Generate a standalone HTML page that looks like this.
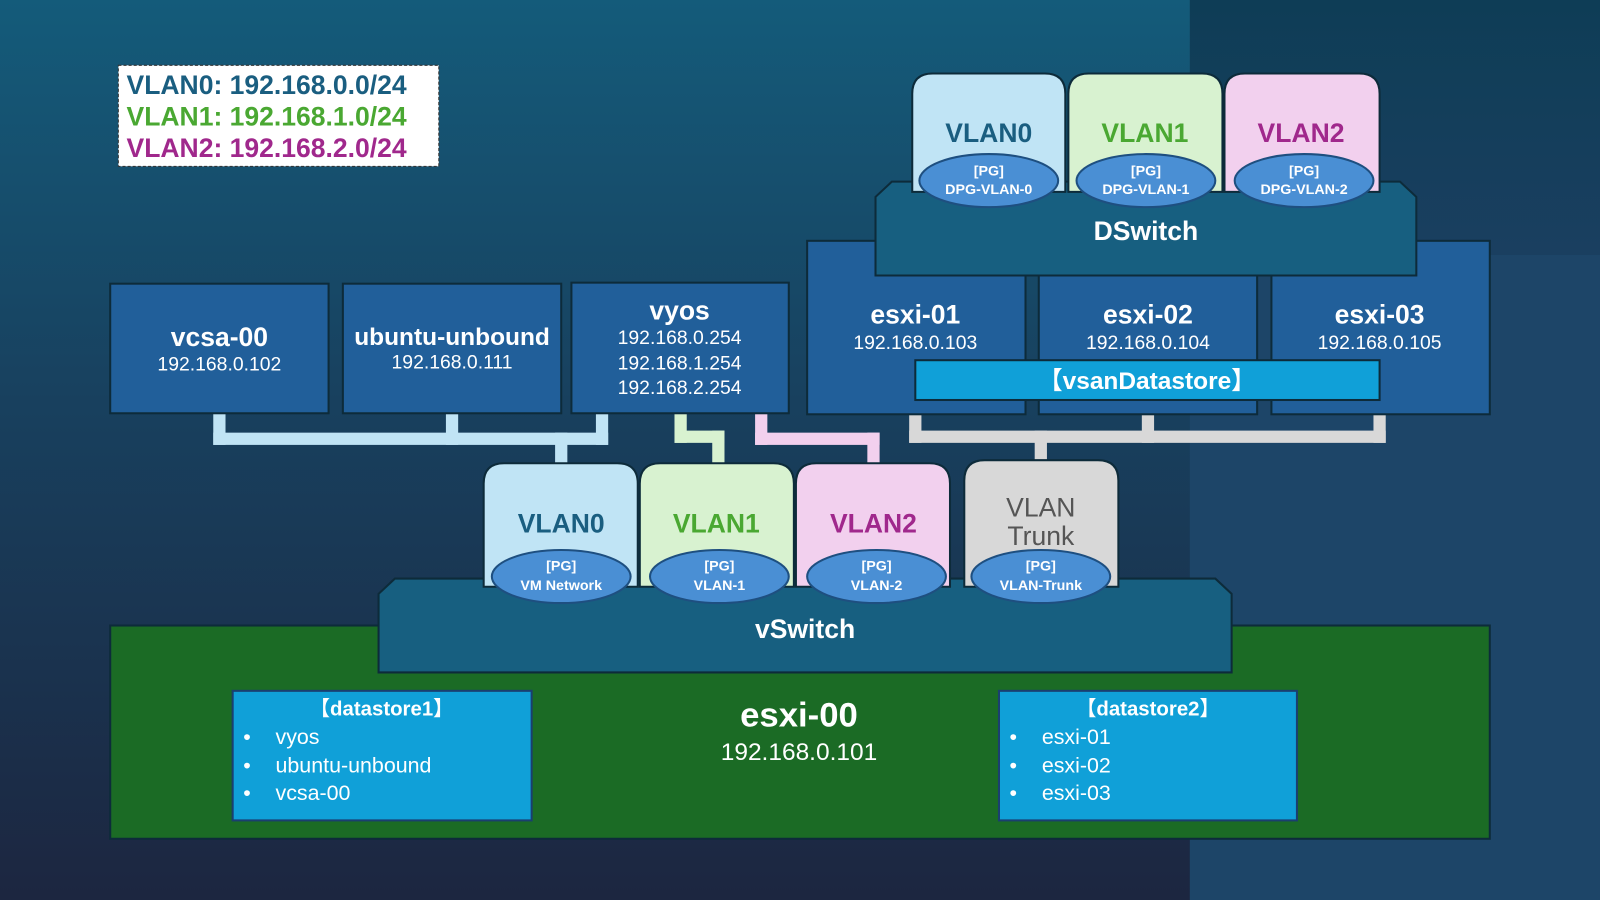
<!DOCTYPE html>
<html><head><meta charset="utf-8"><style>
html,body{margin:0;padding:0;width:1600px;height:900px;overflow:hidden;background:#1a3550}
svg{display:block}
text{font-family:"Liberation Sans","Noto Sans CJK JP",sans-serif;text-anchor:middle}
.b{font-weight:bold}
</style></head><body>
<svg width="1600" height="900" viewBox="0 0 1568 882" preserveAspectRatio="none" xmlns="http://www.w3.org/2000/svg">
<defs>
<linearGradient id="bgL" x1="0" y1="0" x2="0" y2="1">
<stop offset="0" stop-color="#145b7a"/><stop offset="0.45" stop-color="#18405e"/><stop offset="1" stop-color="#1c2640"/></linearGradient>
<linearGradient id="bgR" x1="0" y1="0" x2="0" y2="1">
<stop offset="0" stop-color="#0e3d56"/><stop offset="1" stop-color="#1a3f60"/></linearGradient>
</defs>
<rect x="0" y="0" width="1568" height="882" fill="url(#bgL)"/>
<rect x="1166" y="0" width="402" height="250" fill="url(#bgR)"/>
<rect x="1166" y="250" width="402" height="632" fill="#1d4568"/>

<!-- legend -->
<rect x="116" y="64" width="314" height="99" fill="#fff" stroke="#333" stroke-dasharray="3,2"/>
<g class="b" font-size="26" style="text-anchor:start">
<text x="124" y="92" fill="#1a5e80" font-weight="bold" style="text-anchor:start">VLAN0: 192.168.0.0/24</text>
<text x="124" y="123" fill="#4aa832" font-weight="bold" style="text-anchor:start">VLAN1: 192.168.1.0/24</text>
<text x="124" y="154" fill="#a0288c" font-weight="bold" style="text-anchor:start">VLAN2: 192.168.2.0/24</text>
</g>

<!-- esxi-00 -->
<rect x="108" y="613" width="1352" height="209" fill="#1b6b25" stroke="#0d2b3a" stroke-width="2"/>
<text x="783" y="712" font-size="34" font-weight="bold" fill="#fff">esxi-00</text>
<text x="783" y="745" font-size="24" fill="#fff">192.168.0.101</text>
<rect x="228" y="677" width="293" height="127" fill="#10a0d8" stroke="#1a3f70" stroke-width="2"/>
<text x="374" y="701" font-size="20" font-weight="bold" fill="#fff">【datastore1】</text>
<g font-size="21" fill="#fff">
<text x="242" y="729">•</text><text x="270" y="729" style="text-anchor:start">vyos</text>
<text x="242" y="757">•</text><text x="270" y="757" style="text-anchor:start">ubuntu-unbound</text>
<text x="242" y="784">•</text><text x="270" y="784" style="text-anchor:start">vcsa-00</text>
</g>
<rect x="979" y="677" width="292" height="127" fill="#10a0d8" stroke="#1a3f70" stroke-width="2"/>
<text x="1125" y="701" font-size="20" font-weight="bold" fill="#fff">【datastore2】</text>
<g font-size="21" fill="#fff">
<text x="993" y="729">•</text><text x="1021" y="729" style="text-anchor:start">esxi-01</text>
<text x="993" y="757">•</text><text x="1021" y="757" style="text-anchor:start">esxi-02</text>
<text x="993" y="784">•</text><text x="1021" y="784" style="text-anchor:start">esxi-03</text>
</g>

<!-- vSwitch -->
<path d="M387 567 H1191 L1207 582 V659 H371 V582 Z" fill="#175f80" stroke="#0d2b3a" stroke-width="2"/>
<text x="789" y="625" font-size="26" font-weight="bold" fill="#fff">vSwitch</text>

<!-- connectors -->
<g fill="#c0e4f5">
<rect x="209" y="405" width="12" height="31"/><rect x="437" y="405" width="12" height="31"/><rect x="584" y="405" width="12" height="31"/>
<rect x="209" y="424" width="387" height="12"/><rect x="544" y="424" width="12" height="32"/>
</g>
<g fill="#d8f2d0">
<rect x="661" y="405" width="12" height="29"/><rect x="661" y="422" width="49" height="12"/><rect x="698" y="422" width="12" height="34"/>
</g>
<g fill="#f2d0ee">
<rect x="740" y="405" width="12" height="31"/><rect x="740" y="424" width="122" height="12"/><rect x="850" y="424" width="12" height="32"/>
</g>
<g fill="#d8d8d8">
<rect x="891" y="406" width="12" height="28"/><rect x="1119" y="406" width="12" height="28"/><rect x="1346" y="406" width="12" height="28"/>
<rect x="891" y="422" width="467" height="12"/><rect x="1014" y="422" width="12" height="32"/>
</g>

<!-- bottom cylinders -->
<g stroke="#0d2b3a" stroke-width="2">
<path d="M474 575 V474 Q474 454 494 454 H605 Q625 454 625 474 V575 Z" fill="#c0e4f5"/>
<path d="M627 575 V474 Q627 454 647 454 H758 Q778 454 778 474 V575 Z" fill="#d8f2d0"/>
<path d="M780 575 V474 Q780 454 800 454 H911 Q931 454 931 474 V575 Z" fill="#f2d0ee"/>
<path d="M945 575 V471 Q945 451 965 451 H1076 Q1096 451 1096 471 V575 Z" fill="#d8d8d8"/>
</g>
<g font-size="26" font-weight="bold">
<text x="550" y="522" fill="#1a5e80">VLAN0</text>
<text x="702" y="522" fill="#4aa832">VLAN1</text>
<text x="856" y="522" fill="#a0288c">VLAN2</text>
<text x="1020" y="506" fill="#555" font-weight="normal">VLAN</text>
<text x="1020" y="534" fill="#555" font-weight="normal">Trunk</text>
</g>
<g fill="#4a8fd4" stroke="#1e4f80" stroke-width="2">
<ellipse cx="550" cy="565" rx="68" ry="26"/><ellipse cx="705" cy="565" rx="68" ry="26"/>
<ellipse cx="859" cy="565" rx="68" ry="26"/><ellipse cx="1020" cy="565" rx="68" ry="26"/>
</g>
<g font-size="14" font-weight="bold" fill="#fff">
<text x="550" y="559">[PG]</text><text x="550" y="578">VM Network</text>
<text x="705" y="559">[PG]</text><text x="705" y="578">VLAN-1</text>
<text x="859" y="559">[PG]</text><text x="859" y="578">VLAN-2</text>
<text x="1020" y="559">[PG]</text><text x="1020" y="578">VLAN-Trunk</text>
</g>

<!-- left hosts -->
<g fill="#215f9a" stroke="#0d2b3a" stroke-width="2">
<rect x="108" y="278" width="214" height="127"/>
<rect x="336" y="278" width="214" height="127"/>
<rect x="560" y="277" width="213" height="128"/>
<rect x="791" y="236" width="214" height="170"/>
<rect x="1018" y="236" width="214" height="170"/>
<rect x="1246" y="236" width="214" height="170"/>
</g>
<g fill="#fff">
<text x="215" y="339" font-size="26" font-weight="bold">vcsa-00</text>
<text x="215" y="363" font-size="19">192.168.0.102</text>
<text x="443" y="338" font-size="24" font-weight="bold">ubuntu-unbound</text>
<text x="443" y="361" font-size="19">192.168.0.111</text>
<text x="666" y="313" font-size="26" font-weight="bold">vyos</text>
<text x="666" y="337" font-size="19">192.168.0.254</text>
<text x="666" y="362" font-size="19">192.168.1.254</text>
<text x="666" y="386" font-size="19">192.168.2.254</text>
<text x="897" y="317" font-size="26" font-weight="bold">esxi-01</text>
<text x="897" y="342" font-size="19">192.168.0.103</text>
<text x="1125" y="317" font-size="26" font-weight="bold">esxi-02</text>
<text x="1125" y="342" font-size="19">192.168.0.104</text>
<text x="1352" y="317" font-size="26" font-weight="bold">esxi-03</text>
<text x="1352" y="342" font-size="19">192.168.0.105</text>
</g>
<rect x="897" y="353" width="455" height="39" fill="#10a0d8" stroke="#0d2b3a" stroke-width="2"/>
<text x="1124" y="381" font-size="24" font-weight="bold" fill="#fff">【vsanDatastore】</text>

<!-- DSwitch -->
<path d="M874 178 H1372 L1388 193 V270 H858 V193 Z" fill="#175f80" stroke="#0d2b3a" stroke-width="2"/>
<text x="1123" y="235" font-size="26" font-weight="bold" fill="#fff">DSwitch</text>
<g stroke="#0d2b3a" stroke-width="2">
<path d="M894 188 V92 Q894 72 914 72 H1024 Q1044 72 1044 92 V188 Z" fill="#c0e4f5"/>
<path d="M1047 188 V92 Q1047 72 1067 72 H1178 Q1198 72 1198 92 V188 Z" fill="#d8f2d0"/>
<path d="M1200 188 V92 Q1200 72 1220 72 H1332 Q1352 72 1352 92 V188 Z" fill="#f2d0ee"/>
</g>
<g font-size="26" font-weight="bold">
<text x="969" y="139" fill="#1a5e80">VLAN0</text>
<text x="1122" y="139" fill="#4aa832">VLAN1</text>
<text x="1275" y="139" fill="#a0288c">VLAN2</text>
</g>
<g fill="#4a8fd4" stroke="#1e4f80" stroke-width="2">
<ellipse cx="969" cy="177" rx="68" ry="26"/><ellipse cx="1123" cy="177" rx="68" ry="26"/><ellipse cx="1278" cy="177" rx="68" ry="26"/>
</g>
<g font-size="14" font-weight="bold" fill="#fff">
<text x="969" y="172">[PG]</text><text x="969" y="190">DPG-VLAN-0</text>
<text x="1123" y="172">[PG]</text><text x="1123" y="190">DPG-VLAN-1</text>
<text x="1278" y="172">[PG]</text><text x="1278" y="190">DPG-VLAN-2</text>
</g>
</svg>
</body></html>
